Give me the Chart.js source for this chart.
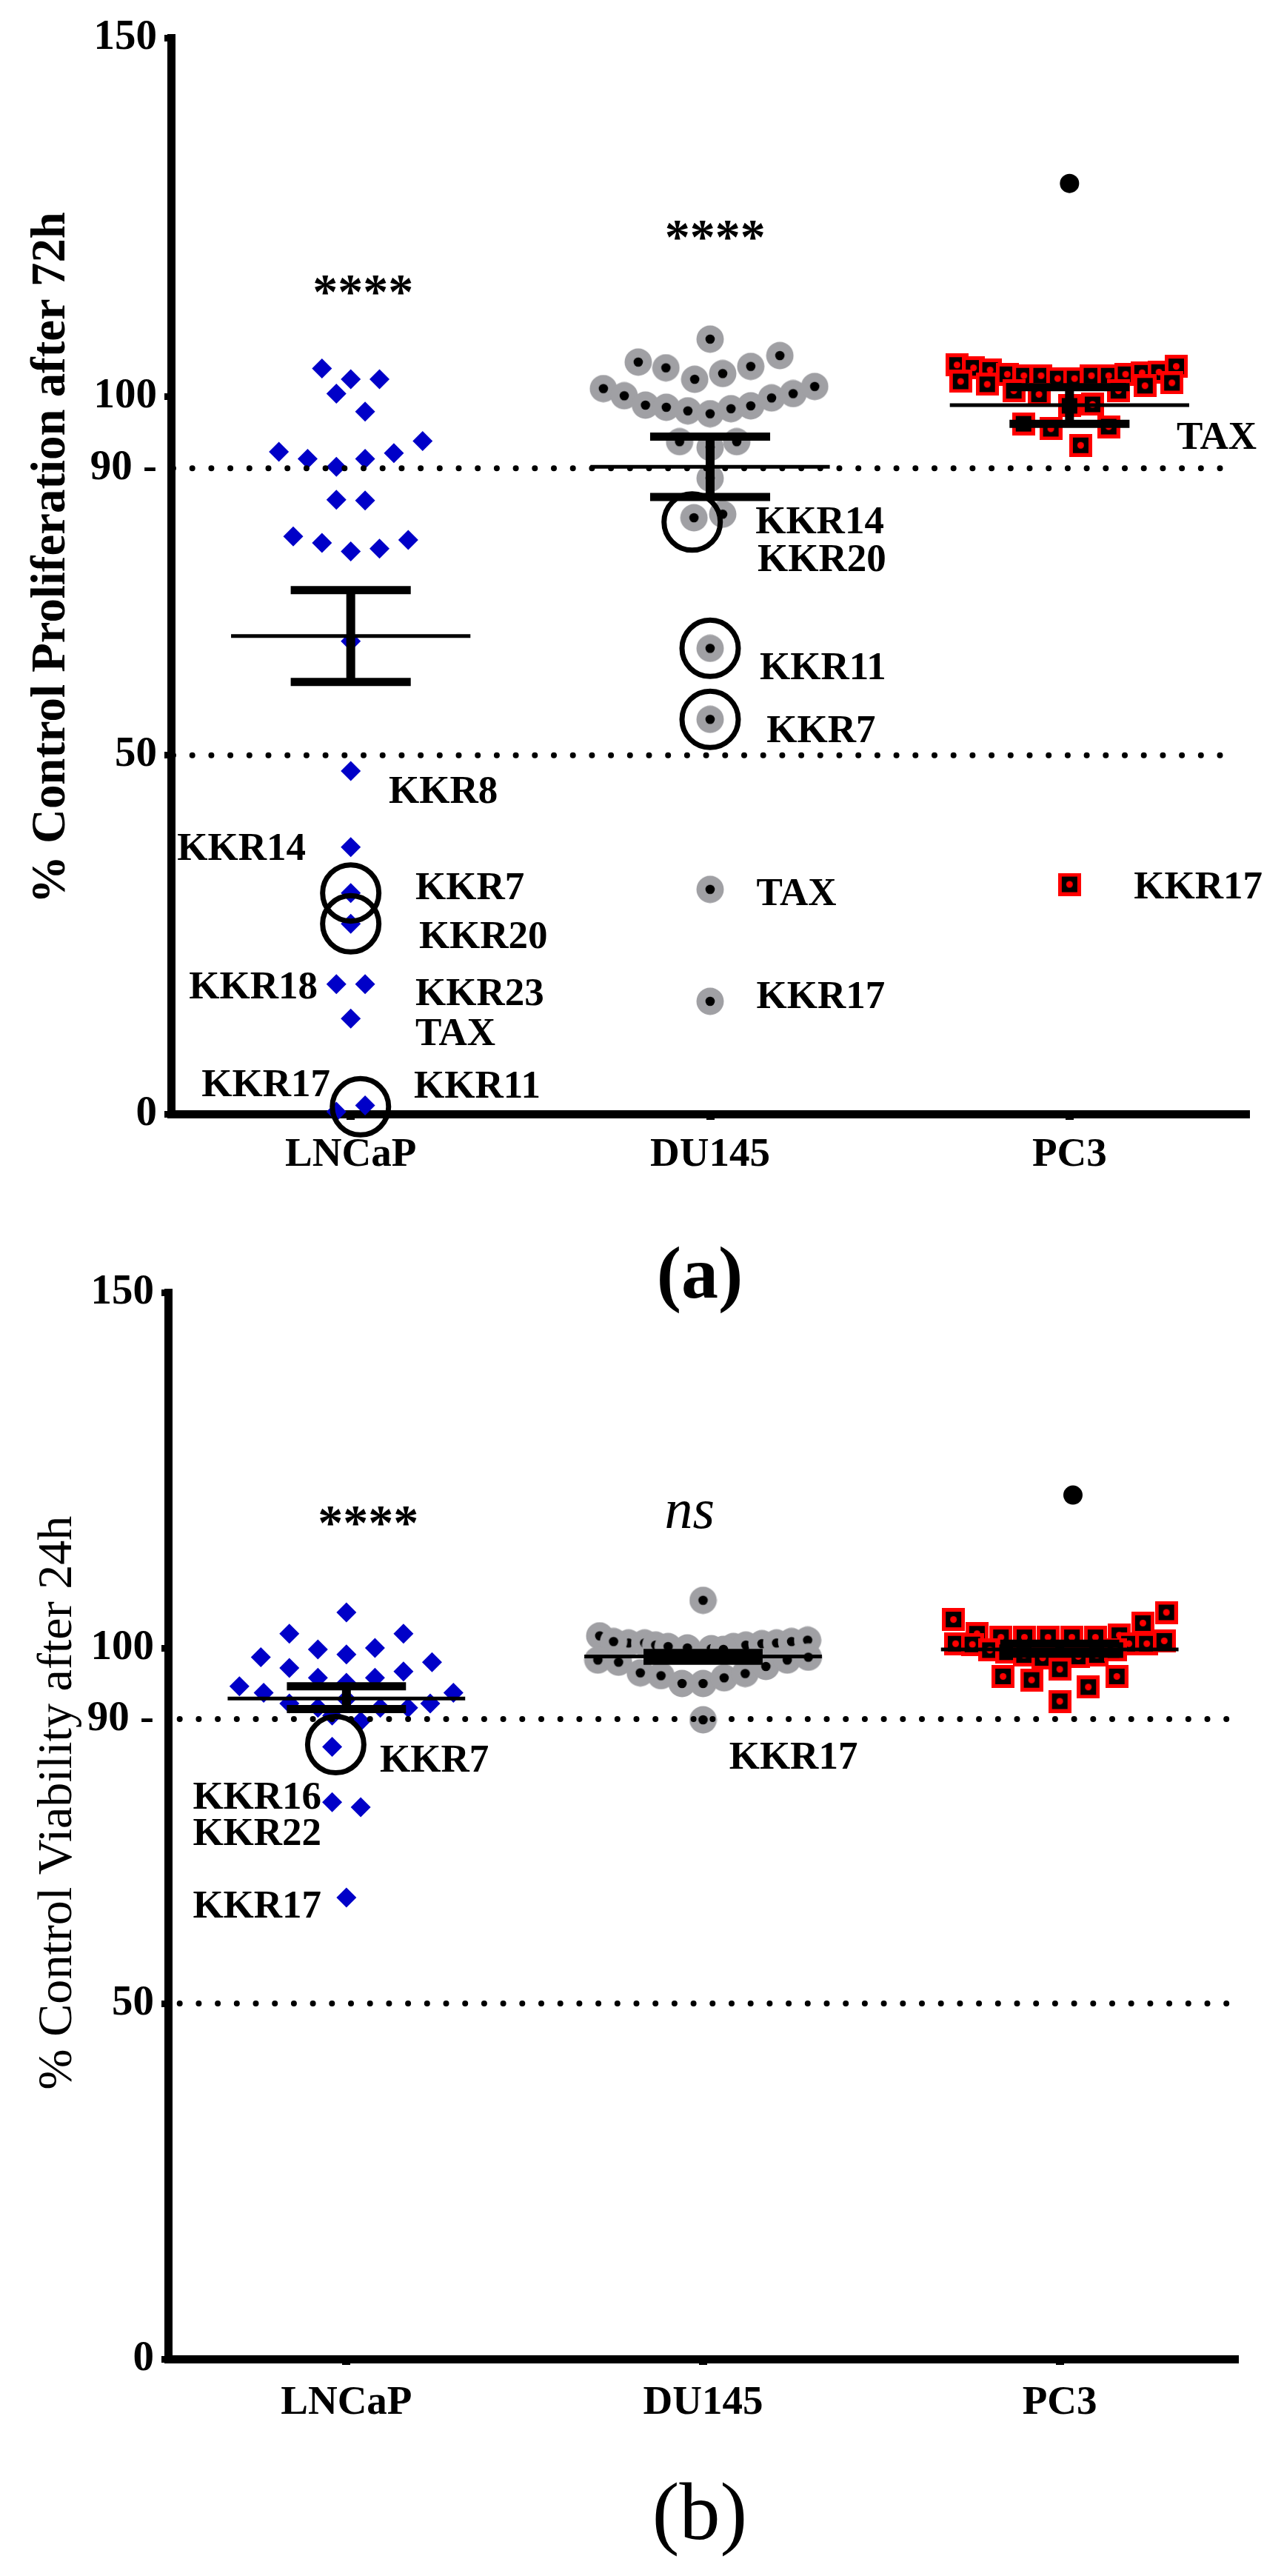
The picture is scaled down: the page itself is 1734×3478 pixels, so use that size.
<!DOCTYPE html>
<html><head><meta charset="utf-8">
<script src="https://cdn.jsdelivr.net/npm/chart.js@4/dist/chart.umd.min.js"></script>
<style>
html,body{margin:0;padding:0;background:#fff;}
#wrap{position:relative;width:1734px;height:3478px;background:#fff;}
#ca{position:absolute;left:0;top:0;}
#cb{position:absolute;left:0;top:1700px;}
</style></head><body>
<div id="wrap"><canvas id="ca" width="1734" height="1800"></canvas><canvas id="cb" width="1734" height="1778"></canvas></div>
<script>
// ---------------- DATA ----------------
const categories = ['LNCaP', 'DU145', 'PC3'];
const yTicks = [0, 50, 90, 100, 150];
const refLines = [90, 50];

// Panel (a): % Control Proliferation after 72h  (dx = horizontal scatter offset, category units)
const a_LNCaP_y  = [103.9,102.4,102.4,100.4,97.9,93.8,92.3,91.3,91.3,92.1,90.2,85.6,85.5,80.5,79.6,78.4,78.8,80.0,65.9,47.8,37.2,30.8,26.5,18.1,18.1,13.3,0.3,1.2];
const a_LNCaP_dx = [-0.08,0,0.08,-0.04,0.04,0.2,-0.2,-0.12,0.04,0.12,-0.04,-0.04,0.04,-0.16,-0.08,0,0.08,0.16,0,0,0,0,0,-0.04,0.04,0,-0.04,0.04];
const a_DU145_y  = [108.0,104.8,104.0,102.4,103.2,104.2,105.7,101.1,100.1,98.8,98.5,98.0,97.6,98.3,98.7,99.8,100.4,101.4,93.7,93.7,92.9,88.6,83.1,83.6,64.9,55.0,31.3,15.7];
const a_DU145_dx = [0,-0.2,-0.123,-0.043,0.035,0.113,0.194,-0.297,-0.239,-0.18,-0.122,-0.062,0,0.058,0.113,0.171,0.231,0.291,-0.085,0.074,0,0,-0.045,0.035,0,0,0,0];
const a_PC3_y    = [104.4,104.0,103.7,103.1,102.9,102.9,102.5,102.5,102.9,102.9,103.1,103.3,103.4,104.2,102.1,101.7,100.8,100.3,100.8,101.5,101.9,98.7,98.9,96.2,95.5,95.8,93.2,32.0];
const a_PC3_dx   = [-0.313,-0.267,-0.221,-0.173,-0.127,-0.079,-0.033,0.014,0.061,0.109,0.156,0.202,0.249,0.297,-0.303,-0.229,-0.155,-0.085,0.136,0.21,0.285,0,0.064,-0.128,-0.052,0.109,0.031,0];
const a_extra_cat = [2], a_extra_dx = [0], a_extra_y = [129.7];
const a_mean  = [66.6, 90.2, 98.8];
const a_semHi = [73.0, 94.4, 101.3];
const a_semLo = [60.2, 86.0, 96.2];
const a_ring_cat = [0,0,0,1,1,1];
const a_ring_dx  = [0,0,0.027,-0.05,0,0];
const a_ring_y   = [30.8,26.5,1.0,82.5,64.9,55.0];
const a_lab_text = ['KKR8','KKR14','KKR7','KKR20','KKR18','KKR23','TAX','KKR17','KKR11','KKR14','KKR20','KKR11','KKR7','TAX','KKR17','TAX','KKR17'];
const a_lab_x    = [0.106,-0.125,0.18,0.19,-0.092,0.18,0.18,-0.057,0.176,1.126,1.132,1.138,1.157,1.129,1.129,2.298,2.179];
const a_lab_y    = [45.2,37.3,31.8,25.0,18.0,17.0,11.5,4.3,4.1,82.8,77.5,62.4,53.7,31.0,16.6,94.6,31.9];
const a_lab_side = ['l','r','l','l','r','l','l','r','l','l','l','l','l','l','l','l','l'];
const a_sig_text = ['****','****'];
const a_sig_x    = [0.034, 1.014];
const a_sig_y    = [115.8, 123.5];

// Panel (b): % Control Viability after 24h
const b_LNCaP_y  = [105.0,102.0,102.0,99.8,99.1,100.0,98.7,98.0,97.2,96.7,95.8,95.1,95.8,94.6,93.7,93.7,92.2,91.6,91.6,91.6,92.2,92.8,90.5,89.7,86.1,78.3,77.6,64.9];
const b_LNCaP_dx = [0,-0.16,0.16,-0.08,0,0.08,-0.24,0.24,-0.16,0.16,-0.08,0,0.08,-0.3,-0.232,0.3,-0.16,-0.08,0.095,0.173,0.235,0,-0.04,0.04,-0.04,-0.04,0.04,0];
const b_DU145_y  = [106.7,101.7,100.7,100.9,100.7,100.4,100.2,100.0,99.9,100.2,100.4,100.6,100.7,100.9,101.1,98.3,98.0,96.5,96.1,95.0,95.0,95.8,96.4,97.4,98.3,98.7,99.8,89.9];
const b_DU145_dx = [0,-0.29,-0.209,-0.251,-0.164,-0.133,-0.098,-0.044,0.023,0.085,0.12,0.165,0.206,0.248,0.293,-0.295,-0.237,-0.176,-0.118,-0.059,0,0.059,0.118,0.176,0.236,0.295,0.057,0];
const b_PC3_y    = [104.0,102.0,101.5,101.5,101.5,101.5,101.5,101.8,103.5,105.0,100.6,100.5,100.6,100.6,101.0,99.7,99.4,99.0,98.6,98.8,99.0,99.7,97.0,96.0,95.5,94.5,96.0,92.5];
const b_PC3_dx   = [-0.298,-0.232,-0.165,-0.099,-0.033,0.034,0.1,0.167,0.233,0.299,-0.292,-0.245,0.194,0.244,0.293,-0.196,-0.148,-0.1,-0.048,0.052,0.104,0.156,0,-0.159,-0.079,0.08,0.16,0];
const b_extra_cat = [2], b_extra_dx = [0.037], b_extra_y = [121.5];
const b_mean  = [92.9, 98.8, 99.8];
const b_semHi = [94.6, 99.3, 100.6];
const b_semLo = [91.4, 98.2, 99.2];
const b_ring_cat = [0];
const b_ring_dx  = [-0.03];
const b_ring_y   = [86.4];
const b_lab_text = ['KKR7','KKR16','KKR22','KKR17','KKR17'];
const b_lab_x    = [0.094,-0.07,-0.07,-0.07,1.073];
const b_lab_y    = [84.5,79.3,74.2,64.0,84.9];
const b_lab_side = ['l','r','r','r','l'];
const b_sig_text = ['****','ns'];
const b_sig_x    = [0.061, 0.962];
const b_sig_y    = [118.9, 118.7];

// ---------------- STYLE / BUILD ----------------
const FONT = "'Liberation Serif', 'Times New Roman', serif";
Chart.defaults.font.family = FONT;
Chart.defaults.color = '#000';

function greyDot(){ const c=document.createElement('canvas'); c.width=c.height=38; const g=c.getContext('2d');
  g.fillStyle='#a0a0a4'; g.beginPath(); g.arc(19,19,18.5,0,2*Math.PI); g.fill();
  g.fillStyle='#000'; g.beginPath(); g.arc(19,19,6.3,0,2*Math.PI); g.fill(); return c; }
function redSquare(){ const c=document.createElement('canvas'); c.width=c.height=31; const g=c.getContext('2d');
  g.fillStyle='#ff0000'; g.fillRect(0,0,31,31); g.fillStyle='#000'; g.fillRect(5,5,21,21);
  g.fillStyle='#ff0000'; g.beginPath(); g.arc(15.5,15.5,4.5,0,2*Math.PI); g.fill(); return c; }
const GREY = greyDot(), RED = redSquare();

function pts(cat, dx, ys){ return ys.map((v,i)=>({x:(Array.isArray(cat)?cat[i]:cat)+dx[i], y:v})); }
function seg(x1,x2,y1,y2,w,order){ return {showLine:true, data:[{x:x1,y:y1},{x:x2,y:y2}], borderColor:'#000', borderWidth:w, borderCapStyle:'butt', pointRadius:0, order:order, clip:false}; }

function buildDatasets(P){
  const ds = [];
  ds.push({data:pts(0,P.lnDx,P.lnY), pointStyle:'rectRot', pointRadius:13.5, pointBackgroundColor:'#0000c8', pointBorderWidth:0, order:10, clip:false});
  ds.push({data:pts(1,P.duDx,P.duY), pointStyle:GREY, pointRadius:18, order:11, clip:false});
  ds.push({data:pts(2,P.pcDx,P.pcY), pointStyle:RED, pointRadius:15, order:12, clip:false});
  ds.push({data:pts(P.exCat,P.exDx,P.exY), pointStyle:'circle', pointRadius:13, pointBackgroundColor:'#000', pointBorderWidth:0, order:10, clip:false});
  refLines.forEach(v=>{ ds.push({showLine:true, data:[{x:-0.5,y:v},{x:P.refEnd,y:v}], borderColor:'#000', borderWidth:8,
      borderDash:[0,25.7], borderDashOffset:P.dashOff, borderCapStyle:'round', pointRadius:0, order:5, clip:false}); });
  categories.forEach((c,i)=>{
    ds.push(seg(i-0.333,i+0.333,P.mean[i],P.mean[i],5,3));
    ds.push(seg(i-0.167,i+0.167,P.hi[i],P.hi[i],11,3));
    ds.push(seg(i-0.167,i+0.167,P.lo[i],P.lo[i],11,3));
    ds.push(seg(i,i,P.lo[i],P.hi[i],12,3));
  });
  ds.push({data:pts(P.rCat,P.rDx,P.rY), pointStyle:'circle', pointRadius:38, pointBorderWidth:7, pointBorderColor:'#000', pointBackgroundColor:'rgba(0,0,0,0)', order:1, clip:false});
  return ds;
}

function textPlugin(P){
  return { id:'txt'+P.key,
    afterDatasetsDraw(chart){
      const ctx=chart.ctx, xs=chart.scales.x, ys=chart.scales.y;
      ctx.save(); ctx.fillStyle='#000'; ctx.textBaseline='alphabetic';
      const fs=53; ctx.font='bold '+fs+'px '+FONT;
      P.labText.forEach((t,i)=>{ ctx.textAlign = P.labSide[i]==='r' ? 'right' : 'left';
        ctx.fillText(t, xs.getPixelForValue(P.labX[i]), ys.getPixelForValue(P.labY[i]) + 0.338*fs); });
      P.sigText.forEach((t,i)=>{ ctx.textAlign='center';
        if (t==='ns'){ const f=76; ctx.font='italic '+f+'px '+FONT; ctx.fillText(t, xs.getPixelForValue(P.sigX[i]), ys.getPixelForValue(P.sigY[i]) + 0.225*f); }
        else { const f=68; ctx.font='bold '+f+'px '+FONT; ctx.fillText(t, xs.getPixelForValue(P.sigX[i]), ys.getPixelForValue(P.sigY[i]) + 0.5*f); }
      });
      ctx.restore();
    },
    afterDraw(chart){
      const ctx=chart.ctx; ctx.save(); ctx.fillStyle='#000';
      let f=60; ctx.font=P.titleWeight+' '+f+'px '+FONT;
      f = f*P.titleLen/ctx.measureText(P.title).width; ctx.font=P.titleWeight+' '+f+'px '+FONT;
      ctx.translate(P.titleX,P.titleY); ctx.rotate(-Math.PI/2); ctx.textAlign='center'; ctx.textBaseline='alphabetic';
      ctx.fillText(P.title,0,0); ctx.setTransform(1,0,0,1,0,0);
      ctx.font=P.letterFont; ctx.textAlign='center'; ctx.fillText(P.letter, P.letterX, P.letterY);
      ctx.restore();
    }
  };
}

function makeChart(id, P){
  const W=1734, H=P.H;
  return new Chart(document.getElementById(id), {
    type:'scatter',
    data:{ datasets: buildDatasets(P) },
    options:{
      responsive:false, animation:false, devicePixelRatio:1, events:[],
      layout:{ padding:{ left:0, top:P.top, right:W-P.right, bottom:0 } },
      plugins:{ legend:{display:false}, tooltip:{enabled:false} },
      scales:{
        x:{ type:'linear', min:-0.5, max:2.5,
            afterBuildTicks:s=>{ s.ticks = categories.map((c,i)=>({value:i})); },
            afterFit:s=>{ s.height = H - P.bottom; },
            ticks:{ callback:v=>categories[v], font:{size:55, weight:'bold'}, color:'#000', padding:P.xPad, maxRotation:0, autoSkip:false },
            grid:{ display:true, drawOnChartArea:false, drawTicks:true, tickLength:8, tickWidth:11, tickColor:'#000' },
            border:{ display:true, width:11, color:'#000' } },
        y:{ type:'linear', min:0, max:150,
            afterBuildTicks:s=>{ s.ticks = yTicks.map(v=>({value:v})); },
            afterFit:s=>{ s.width = P.left; },
            ticks:{ callback:v=> v===90 ? '90 -' : String(v), font:{size:57, weight:'bold'}, color:'#000', padding:10 },
            grid:{ display:true, drawOnChartArea:false, drawTicks:true, tickLength:9, tickWidth:9,
                   tickColor:c=> (c.tick && c.tick.value===90) ? 'rgba(0,0,0,0)' : '#000' },
            border:{ display:true, width:11, color:'#000' } }
      }
    },
    plugins:[ textPlugin(P) ]
  });
}

makeChart('ca', { key:'a', H:1800, left:231, right:1687, top:51, bottom:1504, xPad:15, refEnd:2.46, dashOff:22.7,
  lnY:a_LNCaP_y, lnDx:a_LNCaP_dx, duY:a_DU145_y, duDx:a_DU145_dx, pcY:a_PC3_y, pcDx:a_PC3_dx,
  exCat:a_extra_cat, exDx:a_extra_dx, exY:a_extra_y, mean:a_mean, hi:a_semHi, lo:a_semLo,
  rCat:a_ring_cat, rDx:a_ring_dx, rY:a_ring_y,
  labText:a_lab_text, labX:a_lab_x, labY:a_lab_y, labSide:a_lab_side, sigText:a_sig_text, sigX:a_sig_x, sigY:a_sig_y,
  title:'% Control Proliferation after 72h', titleWeight:'bold', titleLen:934, titleX:87, titleY:753,
  letter:'(a)', letterFont:'bold 100px '+FONT, letterX:945, letterY:1752 });

makeChart('cb', { key:'b', H:1778, left:227, right:1672, top:43, bottom:1485, xPad:19, refEnd:2.47, dashOff:10,
  lnY:b_LNCaP_y, lnDx:b_LNCaP_dx, duY:b_DU145_y, duDx:b_DU145_dx, pcY:b_PC3_y, pcDx:b_PC3_dx,
  exCat:b_extra_cat, exDx:b_extra_dx, exY:b_extra_y, mean:b_mean, hi:b_semHi, lo:b_semLo,
  rCat:b_ring_cat, rDx:b_ring_dx, rY:b_ring_y,
  labText:b_lab_text, labX:b_lab_x, labY:b_lab_y, labSide:b_lab_side, sigText:b_sig_text, sigX:b_sig_x, sigY:b_sig_y,
  title:'% Control Viability after 24h', titleWeight:'normal', titleLen:775, titleX:96, titleY:734,
  letter:'(b)', letterFont:'110px '+FONT, letterX:945, letterY:1728 });
</script>
</body></html>
